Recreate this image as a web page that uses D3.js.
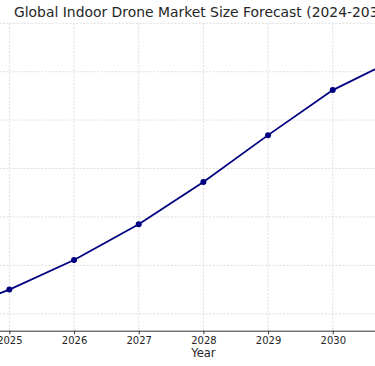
<!DOCTYPE html>
<html>
<head>
<meta charset="utf-8">
<script src="https://cdn.jsdelivr.net/npm/d3@7"></script>
<style>
  html, body { margin: 0; padding: 0; background: #fff; }
  svg { display: block; font-family: "DejaVu Sans", sans-serif; }
</style>
</head>
<body>
<div id="chart"></div>
<script>
const years = [2024, 2025, 2026, 2027, 2028, 2029, 2030, 2031, 2032];
const marketSize = [0.97, 1.50, 2.11, 2.85, 3.72, 4.69, 5.62, 6.28, 6.68];
const yTicks = [1, 2, 3, 4, 5, 6, 7];
const titleText = 'Global Indoor Drone Market Size Forecast (2024-2032)';
const xLabel = 'Year';

const svgWidth = 375;
const svgHeight = 366;
// the plot area runs wider than the window, so both sides get cut off
const plot = { left: -81.2, right: 488, top: 23.3, bottom: 330.7 };

const svg = d3.select('#chart')
    .append('svg')
    .attr('width', svgWidth)
    .attr('height', svgHeight);

svg.append('rect')
    .attr('width', svgWidth)
    .attr('height', svgHeight)
    .attr('fill', '#fff');

const x = d3.scaleLinear().domain([2023.6, 2032.4]).range([plot.left, plot.right]);
const y = d3.scaleLinear().domain([0.65, 7.0]).range([plot.bottom, plot.top]);

// only the years whose tick sits (at least partly) inside the window
const shownYears = years.filter(d => x(d) > -15 && x(d) < svgWidth + 5);

// grid lines
const grid = svg.append('g').attr('class', 'grid');
grid.selectAll('.vgrid')
    .data(years)
    .enter()
    .append('line')
    .attr('x1', d => x(d)).attr('x2', d => x(d))
    .attr('y1', plot.top).attr('y2', plot.bottom);
grid.selectAll('.hgrid')
    .data(yTicks)
    .enter()
    .append('line')
    .attr('x1', plot.left).attr('x2', plot.right)
    .attr('y1', d => y(d)).attr('y2', d => y(d));
grid.selectAll('line')
    .attr('stroke', '#d6d6d6')
    .attr('stroke-width', 0.8)
    .attr('stroke-dasharray', '2,1.5');

// x axis
const xAxis = svg.append('g')
    .attr('transform', `translate(0, ${plot.bottom})`)
    .call(d3.axisBottom(x)
        .tickValues(shownYears)
        .tickFormat(d3.format('d'))
        .tickSize(3.5)
        .tickPadding(3));
xAxis.select('.domain').attr('stroke', '#333').attr('stroke-width', 1);
xAxis.selectAll('.tick line').attr('stroke', '#333');
xAxis.selectAll('.tick text')
    .attr('fill', '#262626')
    .style('font-size', '10px')
    .style('font-family', '"DejaVu Sans", sans-serif');

// line and markers
const line = d3.line()
    .x((d, i) => x(years[i]))
    .y(d => y(d));

svg.append('path')
    .datum(marketSize)
    .attr('fill', 'none')
    .attr('stroke', '#000080')
    .attr('stroke-width', 1.8)
    .attr('d', line);

svg.selectAll('.dot')
    .data(marketSize)
    .enter()
    .append('circle')
    .attr('class', 'dot')
    .attr('cx', (d, i) => x(years[i]))
    .attr('cy', d => y(d))
    .attr('r', 3)
    .attr('fill', '#000080');

// title and axis label
const centerX = (plot.left + plot.right) / 2;
svg.append('text')
    .attr('x', centerX)
    .attr('y', 17.3)
    .attr('text-anchor', 'middle')
    .attr('fill', '#262626')
    .style('font-size', '13.9px')
    .text(titleText);

svg.append('text')
    .attr('x', centerX)
    .attr('y', 357.3)
    .attr('text-anchor', 'middle')
    .attr('fill', '#262626')
    .style('font-size', '11.5px')
    .text(xLabel);
</script>
</body>
</html>
